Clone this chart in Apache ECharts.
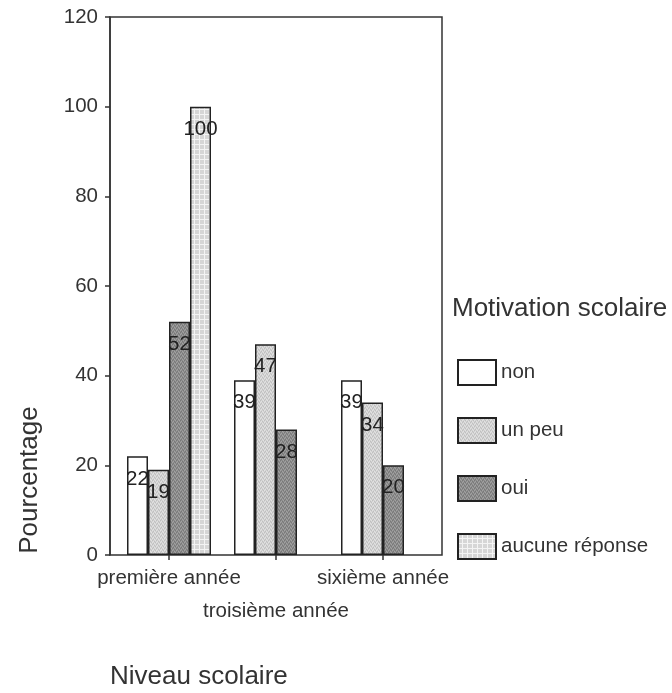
<!DOCTYPE html>
<html>
<head>
<meta charset="utf-8">
<style>
  html, body { margin: 0; padding: 0; background: #fff; }
  #chart { width: 672px; height: 693px; }
</style>
<script src="https://cdn.jsdelivr.net/npm/echarts@6/dist/echarts.min.js"></script>
</head>
<body>
<div id="chart"></div>
<script>
// Niveau scolaire categories and Motivation scolaire percentages
const categories = ['première année', 'troisième année', 'sixième année'];
const seriesNames = ['non', 'un peu', 'oui', 'aucune réponse'];
const nonValues = [22, 39, 39];
const unPeuValues = [19, 47, 34];
const ouiValues = [52, 28, 20];
const aucuneValues = [100, null, null];
const yTicks = [0, 20, 40, 60, 80, 100, 120];

const FONT = '"Liberation Sans", Arial, Helvetica, sans-serif';
const INK = '#222';
const TEXT = '#333';

// Small tiled textures for the shaded bars
function makePattern(size, draw) {
  const c = document.createElement('canvas');
  c.width = size; c.height = size;
  const ctx = c.getContext('2d');
  draw(ctx, size);
  return { image: c, repeat: 'repeat' };
}
function stipple(base, dark, light) {
  return makePattern(4, (ctx) => {
    ctx.fillStyle = base; ctx.fillRect(0, 0, 4, 4);
    ctx.fillStyle = dark;
    [[0, 0], [2, 1], [1, 3], [3, 2]].forEach(p => ctx.fillRect(p[0], p[1], 1, 1));
    ctx.fillStyle = light;
    [[1, 1], [3, 0], [0, 2], [2, 3]].forEach(p => ctx.fillRect(p[0], p[1], 1, 1));
  });
}
const gridTexture = makePattern(5, (ctx) => {
  ctx.fillStyle = '#d6d6d6'; ctx.fillRect(0, 0, 5, 5);
  ctx.fillStyle = '#f4f4f4';
  ctx.fillRect(4, 0, 1, 5);
  ctx.fillRect(0, 4, 5, 1);
});

const fills = ['#ffffff', stipple('#d2d2d2', '#bfbfbf', '#e2e2e2'),
               stipple('#8c8c8c', '#787878', '#a2a2a2'), gridTexture];
const valueSets = [nonValues, unPeuValues, ouiValues, aucuneValues];

const chart = echarts.init(document.getElementById('chart'), null, { renderer: 'canvas' });

const series = seriesNames.map((name, i) => ({
  name: name,
  type: 'bar',
  xAxisIndex: 0,
  yAxisIndex: 0,
  data: valueSets[i],
  barWidth: 21,
  barGap: '0%',
  itemStyle: { color: fills[i], borderColor: INK, borderWidth: 1.5 },
  label: {
    show: true,
    position: 'insideTop',
    distance: 12,
    fontFamily: FONT,
    fontSize: 20.5,
    color: INK
  }
}));

chart.setOption({
  animation: false,
  backgroundColor: '#fff',
  grid: [
    // bar area
    { left: 115.5, width: 321, top: 17, height: 538, show: false },
    // outer frame with the value axis
    { left: 110, width: 332, top: 17, height: 538, show: true,
      borderColor: '#333', borderWidth: 1.5, backgroundColor: 'transparent' }
  ],
  xAxis: [
    {
      type: 'category', gridIndex: 0, data: categories,
      axisLine: { show: false },
      axisTick: { show: true, alignWithLabel: true, length: 5, lineStyle: { color: '#333', width: 1.5 } },
      axisLabel: {
        interval: 0, margin: 7, fontFamily: FONT, fontSize: 20.5, color: TEXT,
        lineHeight: 33,
        formatter: (v, idx) => idx === 1 ? '\n' + v : v
      }
    },
    { type: 'value', gridIndex: 1, show: false, min: 0, max: 1 }
  ],
  yAxis: [
    { type: 'value', gridIndex: 0, min: 0, max: 120, interval: 20, show: false },
    {
      type: 'value', gridIndex: 1, min: yTicks[0], max: yTicks[yTicks.length - 1], interval: 20,
      axisLine: { show: true, lineStyle: { color: '#333', width: 1.5 } },
      axisTick: { show: true, length: 5, lineStyle: { color: '#333', width: 1.5 } },
      splitLine: { show: false },
      axisLabel: { margin: 12, fontFamily: FONT, fontSize: 20.5, color: TEXT }
    }
  ],
  legend: {
    data: seriesNames,
    orient: 'vertical',
    left: 457,
    top: 359,
    padding: 0,
    itemWidth: 38,
    itemHeight: 25,
    itemGap: 31,
    icon: 'rect',
    selectedMode: false,
    textStyle: { fontFamily: FONT, fontSize: 20.5, color: TEXT }
  },
  graphic: [
    { type: 'text', x: 30, y: 480, rotation: Math.PI / 2,
      style: { text: 'Pourcentage', align: 'center', verticalAlign: 'middle',
               font: '26px ' + FONT, fill: TEXT } },
    { type: 'text', x: 110, y: 677,
      style: { text: 'Niveau scolaire', align: 'left', verticalAlign: 'middle',
               font: '26px ' + FONT, fill: TEXT } },
    { type: 'text', x: 452, y: 309,
      style: { text: 'Motivation scolaire', align: 'left', verticalAlign: 'middle',
               font: '26px ' + FONT, fill: TEXT } }
  ],
  series: series
});
</script>
</body>
</html>
